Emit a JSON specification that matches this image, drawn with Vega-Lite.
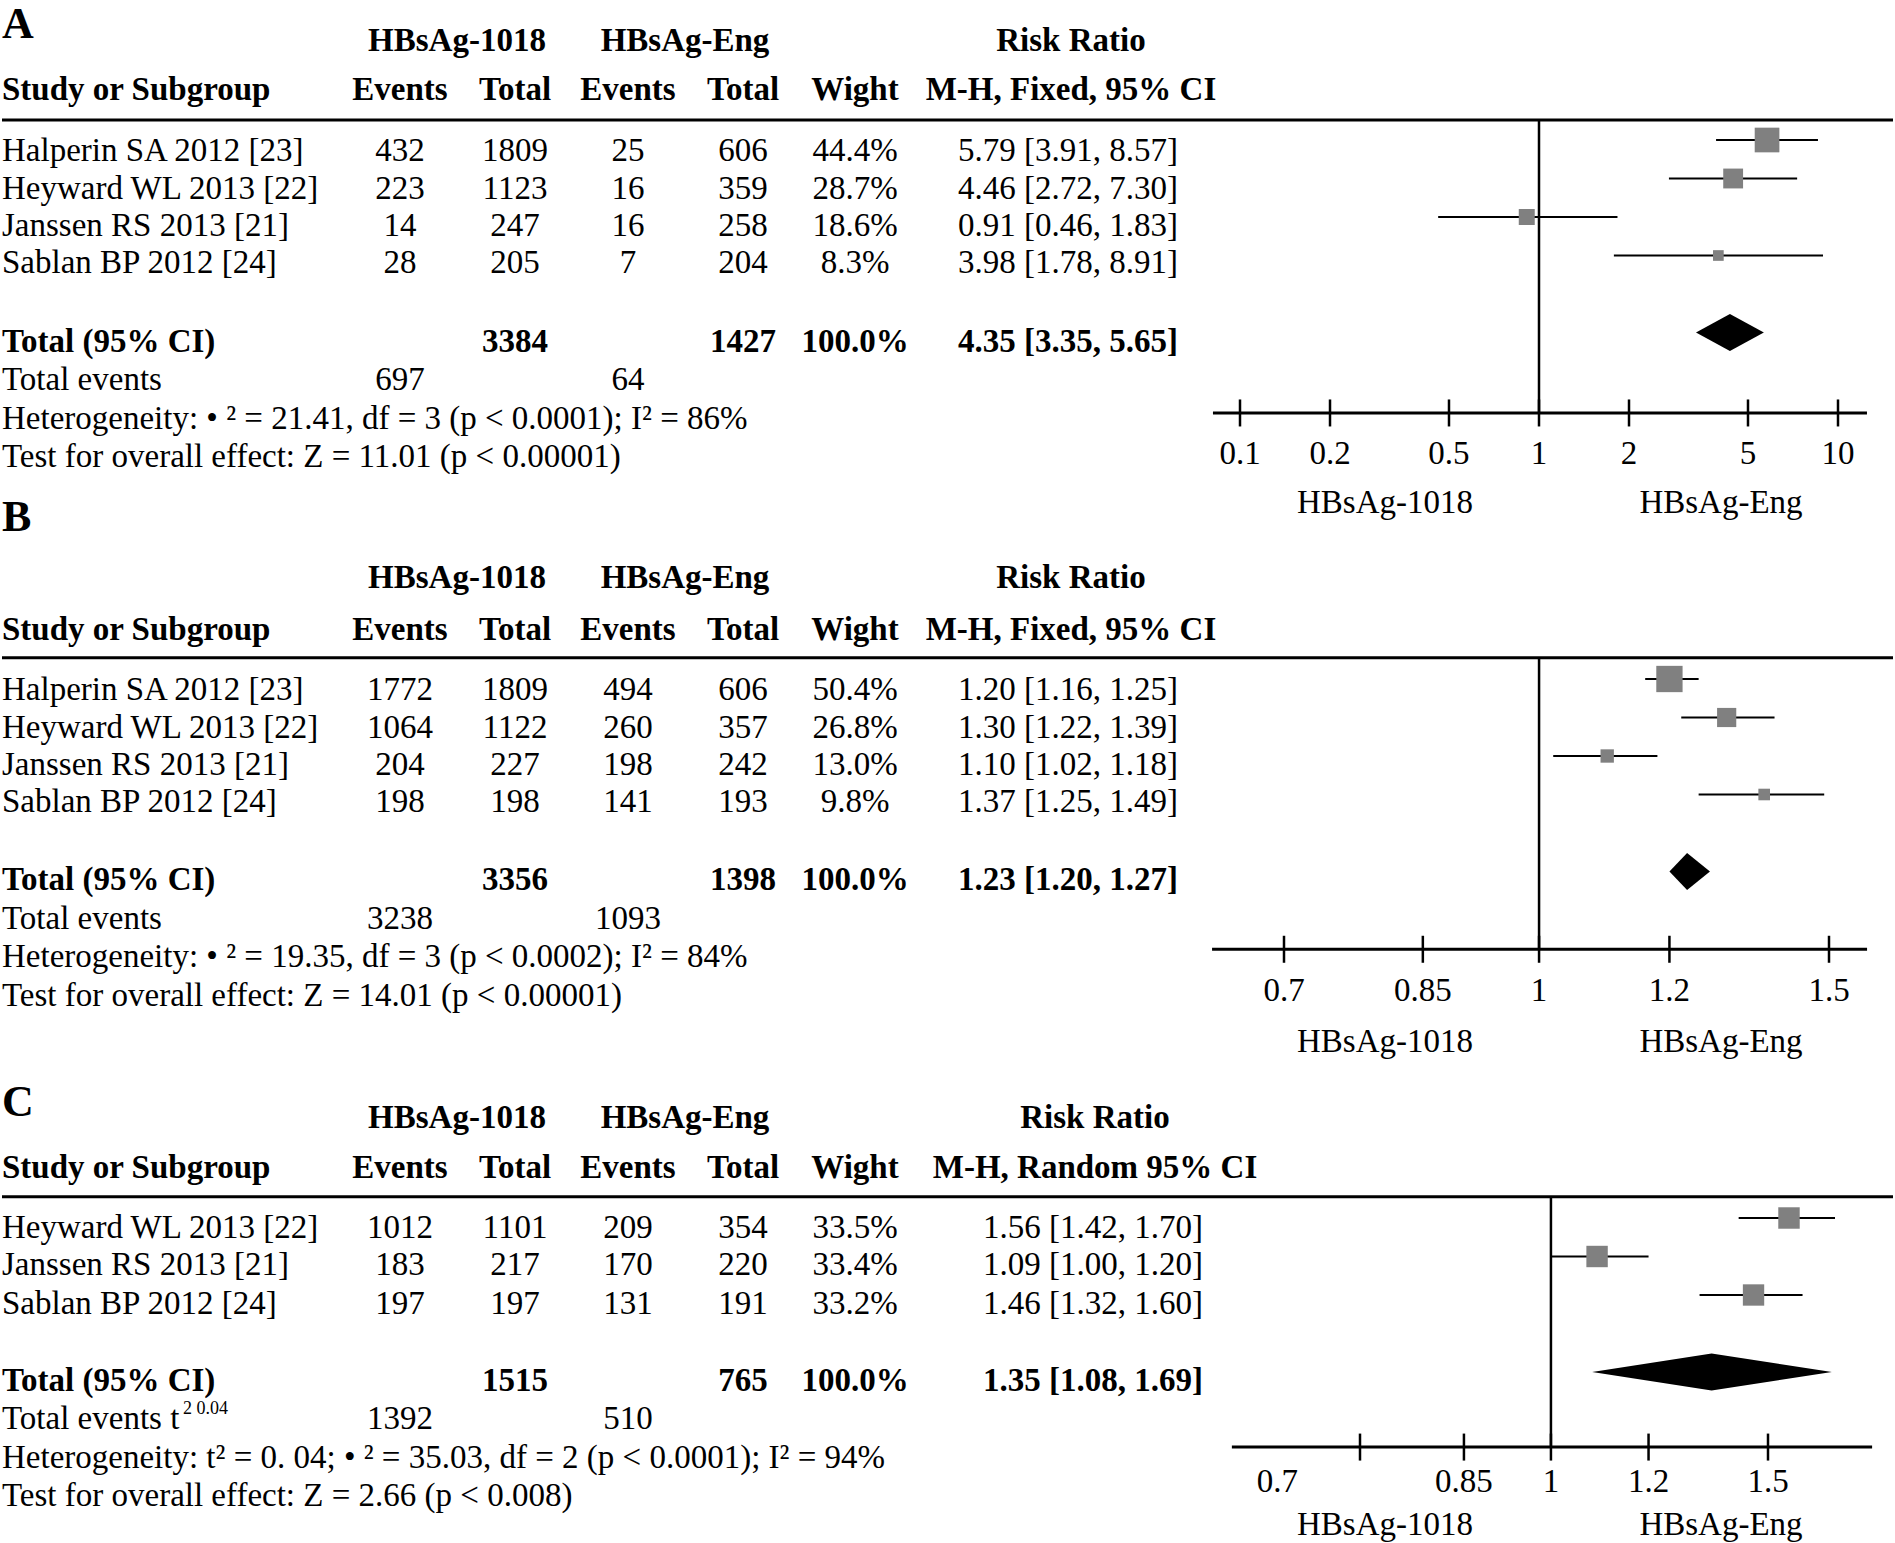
{
  "$schema": "https://vega.github.io/schema/vega-lite/v6.json",
  "width": 1895,
  "height": 1543,
  "autosize": {"type": "none"},
  "padding": 0,
  "background": "white",
  "config": {"view": {"stroke": null}},
  "datasets": {
    "cells": [
      {"g": "P", "col": 0, "row": -3.22, "t": "A"},
      {"g": "BC", "col": 2, "row": -2.81, "t": "HBsAg-1018"},
      {"g": "BC", "col": 5, "row": -2.81, "t": "HBsAg-Eng"},
      {"g": "BC", "col": 8, "row": -2.81, "t": "Risk Ratio"},
      {"g": "BL", "col": 0, "row": -1.52, "t": "Study or Subgroup"},
      {"g": "BC", "col": 1, "row": -1.52, "t": "Events"},
      {"g": "BC", "col": 3, "row": -1.52, "t": "Total"},
      {"g": "BC", "col": 4, "row": -1.52, "t": "Events"},
      {"g": "BC", "col": 6, "row": -1.52, "t": "Total"},
      {"g": "BC", "col": 7, "row": -1.52, "t": "Wight"},
      {"g": "BC", "col": 8, "row": -1.52, "t": "M-H, Fixed, 95% CI"},
      {"g": "L", "col": 0, "row": 0.06, "t": "Halperin SA 2012 [23]"},
      {"g": "C", "col": 1, "row": 0.06, "t": "432"},
      {"g": "C", "col": 3, "row": 0.06, "t": "1809"},
      {"g": "C", "col": 4, "row": 0.06, "t": "25"},
      {"g": "C", "col": 6, "row": 0.06, "t": "606"},
      {"g": "C", "col": 7, "row": 0.06, "t": "44.4%"},
      {"g": "R", "col": 10, "row": 0.06, "t": "5.79 [3.91, 8.57]"},
      {"g": "L", "col": 0, "row": 1.03, "t": "Heyward WL 2013 [22]"},
      {"g": "C", "col": 1, "row": 1.03, "t": "223"},
      {"g": "C", "col": 3, "row": 1.03, "t": "1123"},
      {"g": "C", "col": 4, "row": 1.03, "t": "16"},
      {"g": "C", "col": 6, "row": 1.03, "t": "359"},
      {"g": "C", "col": 7, "row": 1.03, "t": "28.7%"},
      {"g": "R", "col": 10, "row": 1.03, "t": "4.46 [2.72, 7.30]"},
      {"g": "L", "col": 0, "row": 2, "t": "Janssen RS 2013 [21]"},
      {"g": "C", "col": 1, "row": 2, "t": "14"},
      {"g": "C", "col": 3, "row": 2, "t": "247"},
      {"g": "C", "col": 4, "row": 2, "t": "16"},
      {"g": "C", "col": 6, "row": 2, "t": "258"},
      {"g": "C", "col": 7, "row": 2, "t": "18.6%"},
      {"g": "R", "col": 10, "row": 2, "t": "0.91 [0.46, 1.83]"},
      {"g": "L", "col": 0, "row": 2.97, "t": "Sablan BP 2012 [24]"},
      {"g": "C", "col": 1, "row": 2.97, "t": "28"},
      {"g": "C", "col": 3, "row": 2.97, "t": "205"},
      {"g": "C", "col": 4, "row": 2.97, "t": "7"},
      {"g": "C", "col": 6, "row": 2.97, "t": "204"},
      {"g": "C", "col": 7, "row": 2.97, "t": "8.3%"},
      {"g": "R", "col": 10, "row": 2.97, "t": "3.98 [1.78, 8.91]"},
      {"g": "BL", "col": 0, "row": 5, "t": "Total (95% CI)"},
      {"g": "BC", "col": 3, "row": 5, "t": "3384"},
      {"g": "BC", "col": 6, "row": 5, "t": "1427"},
      {"g": "BC", "col": 7, "row": 5, "t": "100.0%"},
      {"g": "BR", "col": 10, "row": 5, "t": "4.35 [3.35, 5.65]"},
      {"g": "L", "col": 0, "row": 6, "t": "Total events"},
      {"g": "C", "col": 1, "row": 6, "t": "697"},
      {"g": "C", "col": 4, "row": 6, "t": "64"},
      {"g": "L", "col": 0, "row": 7, "t": "Heterogeneity: • ² = 21.41, df = 3 (p < 0.0001); I² = 86%"},
      {"g": "L", "col": 0, "row": 8, "t": "Test for overall effect: Z = 11.01 (p < 0.00001)"},
      {"g": "C", "col": 12, "row": 9.19, "t": "HBsAg-1018"},
      {"g": "C", "col": 13, "row": 9.19, "t": "HBsAg-Eng"},

      {"g": "P", "col": 0, "row": 9.58, "t": "B"},
      {"g": "BC", "col": 2, "row": 11.15, "t": "HBsAg-1018"},
      {"g": "BC", "col": 5, "row": 11.15, "t": "HBsAg-Eng"},
      {"g": "BC", "col": 8, "row": 11.15, "t": "Risk Ratio"},
      {"g": "BL", "col": 0, "row": 12.5, "t": "Study or Subgroup"},
      {"g": "BC", "col": 1, "row": 12.5, "t": "Events"},
      {"g": "BC", "col": 3, "row": 12.5, "t": "Total"},
      {"g": "BC", "col": 4, "row": 12.5, "t": "Events"},
      {"g": "BC", "col": 6, "row": 12.5, "t": "Total"},
      {"g": "BC", "col": 7, "row": 12.5, "t": "Wight"},
      {"g": "BC", "col": 8, "row": 12.5, "t": "M-H, Fixed, 95% CI"},
      {"g": "L", "col": 0, "row": 14.05, "t": "Halperin SA 2012 [23]"},
      {"g": "C", "col": 1, "row": 14.05, "t": "1772"},
      {"g": "C", "col": 3, "row": 14.05, "t": "1809"},
      {"g": "C", "col": 4, "row": 14.05, "t": "494"},
      {"g": "C", "col": 6, "row": 14.05, "t": "606"},
      {"g": "C", "col": 7, "row": 14.05, "t": "50.4%"},
      {"g": "R", "col": 10, "row": 14.05, "t": "1.20 [1.16, 1.25]"},
      {"g": "L", "col": 0, "row": 15.03, "t": "Heyward WL 2013 [22]"},
      {"g": "C", "col": 1, "row": 15.03, "t": "1064"},
      {"g": "C", "col": 3, "row": 15.03, "t": "1122"},
      {"g": "C", "col": 4, "row": 15.03, "t": "260"},
      {"g": "C", "col": 6, "row": 15.03, "t": "357"},
      {"g": "C", "col": 7, "row": 15.03, "t": "26.8%"},
      {"g": "R", "col": 10, "row": 15.03, "t": "1.30 [1.22, 1.39]"},
      {"g": "L", "col": 0, "row": 16, "t": "Janssen RS 2013 [21]"},
      {"g": "C", "col": 1, "row": 16, "t": "204"},
      {"g": "C", "col": 3, "row": 16, "t": "227"},
      {"g": "C", "col": 4, "row": 16, "t": "198"},
      {"g": "C", "col": 6, "row": 16, "t": "242"},
      {"g": "C", "col": 7, "row": 16, "t": "13.0%"},
      {"g": "R", "col": 10, "row": 16, "t": "1.10 [1.02, 1.18]"},
      {"g": "L", "col": 0, "row": 16.97, "t": "Sablan BP 2012 [24]"},
      {"g": "C", "col": 1, "row": 16.97, "t": "198"},
      {"g": "C", "col": 3, "row": 16.97, "t": "198"},
      {"g": "C", "col": 4, "row": 16.97, "t": "141"},
      {"g": "C", "col": 6, "row": 16.97, "t": "193"},
      {"g": "C", "col": 7, "row": 16.97, "t": "9.8%"},
      {"g": "R", "col": 10, "row": 16.97, "t": "1.37 [1.25, 1.49]"},
      {"g": "BL", "col": 0, "row": 19, "t": "Total (95% CI)"},
      {"g": "BC", "col": 3, "row": 19, "t": "3356"},
      {"g": "BC", "col": 6, "row": 19, "t": "1398"},
      {"g": "BC", "col": 7, "row": 19, "t": "100.0%"},
      {"g": "BR", "col": 10, "row": 19, "t": "1.23 [1.20, 1.27]"},
      {"g": "L", "col": 0, "row": 20, "t": "Total events"},
      {"g": "C", "col": 1, "row": 20, "t": "3238"},
      {"g": "C", "col": 4, "row": 20, "t": "1093"},
      {"g": "L", "col": 0, "row": 21, "t": "Heterogeneity: • ² = 19.35, df = 3 (p < 0.0002); I² = 84%"},
      {"g": "L", "col": 0, "row": 22, "t": "Test for overall effect: Z = 14.01 (p < 0.00001)"},
      {"g": "C", "col": 12, "row": 23.19, "t": "HBsAg-1018"},
      {"g": "C", "col": 13, "row": 23.19, "t": "HBsAg-Eng"},

      {"g": "P", "col": 0, "row": 24.78, "t": "C"},
      {"g": "BC", "col": 2, "row": 25.16, "t": "HBsAg-1018"},
      {"g": "BC", "col": 5, "row": 25.16, "t": "HBsAg-Eng"},
      {"g": "BC", "col": 9, "row": 25.16, "t": "Risk Ratio"},
      {"g": "BL", "col": 0, "row": 26.48, "t": "Study or Subgroup"},
      {"g": "BC", "col": 1, "row": 26.48, "t": "Events"},
      {"g": "BC", "col": 3, "row": 26.48, "t": "Total"},
      {"g": "BC", "col": 4, "row": 26.48, "t": "Events"},
      {"g": "BC", "col": 6, "row": 26.48, "t": "Total"},
      {"g": "BC", "col": 7, "row": 26.48, "t": "Wight"},
      {"g": "BC", "col": 9, "row": 26.48, "t": "M-H, Random 95% CI"},
      {"g": "L", "col": 0, "row": 28.03, "t": "Heyward WL 2013 [22]"},
      {"g": "C", "col": 1, "row": 28.03, "t": "1012"},
      {"g": "C", "col": 3, "row": 28.03, "t": "1101"},
      {"g": "C", "col": 4, "row": 28.03, "t": "209"},
      {"g": "C", "col": 6, "row": 28.03, "t": "354"},
      {"g": "C", "col": 7, "row": 28.03, "t": "33.5%"},
      {"g": "R", "col": 11, "row": 28.03, "t": "1.56 [1.42, 1.70]"},
      {"g": "L", "col": 0, "row": 29, "t": "Janssen RS 2013 [21]"},
      {"g": "C", "col": 1, "row": 29, "t": "183"},
      {"g": "C", "col": 3, "row": 29, "t": "217"},
      {"g": "C", "col": 4, "row": 29, "t": "170"},
      {"g": "C", "col": 6, "row": 29, "t": "220"},
      {"g": "C", "col": 7, "row": 29, "t": "33.4%"},
      {"g": "R", "col": 11, "row": 29, "t": "1.09 [1.00, 1.20]"},
      {"g": "L", "col": 0, "row": 30, "t": "Sablan BP 2012 [24]"},
      {"g": "C", "col": 1, "row": 30, "t": "197"},
      {"g": "C", "col": 3, "row": 30, "t": "197"},
      {"g": "C", "col": 4, "row": 30, "t": "131"},
      {"g": "C", "col": 6, "row": 30, "t": "191"},
      {"g": "C", "col": 7, "row": 30, "t": "33.2%"},
      {"g": "R", "col": 11, "row": 30, "t": "1.46 [1.32, 1.60]"},
      {"g": "BL", "col": 0, "row": 32, "t": "Total (95% CI)"},
      {"g": "BC", "col": 3, "row": 32, "t": "1515"},
      {"g": "BC", "col": 6, "row": 32, "t": "765"},
      {"g": "BC", "col": 7, "row": 32, "t": "100.0%"},
      {"g": "BR", "col": 11, "row": 32, "t": "1.35 [1.08, 1.69]"},
      {"g": "L", "col": 0, "row": 33, "t": "Total events t"},
      {"g": "S", "col": 15, "row": 33, "t": "2 0.04"},
      {"g": "C", "col": 1, "row": 33, "t": "1392"},
      {"g": "C", "col": 4, "row": 33, "t": "510"},
      {"g": "L", "col": 0, "row": 34, "t": "Heterogeneity: t² = 0. 04; • ² = 35.03, df = 2 (p < 0.0001); I² = 94%"},
      {"g": "L", "col": 0, "row": 35, "t": "Test for overall effect: Z = 2.66 (p < 0.008)"},
      {"g": "C", "col": 12, "row": 35.74, "t": "HBsAg-1018"},
      {"g": "C", "col": 13, "row": 35.74, "t": "HBsAg-Eng"}
    ],
    "hlines": [
      {"row": -0.52, "c1": 0, "c2": 14},
      {"row": 13.45, "c1": 0, "c2": 14},
      {"row": 27.45, "c1": 0, "c2": 14}
    ],
    "studies": [
      {"p": "A", "row": 0, "est": 5.79, "lo": 3.91, "hi": 8.57, "w": 44.4},
      {"p": "A", "row": 1, "est": 4.46, "lo": 2.72, "hi": 7.30, "w": 28.7},
      {"p": "A", "row": 2, "est": 0.91, "lo": 0.46, "hi": 1.83, "w": 18.6},
      {"p": "A", "row": 3, "est": 3.98, "lo": 1.78, "hi": 8.91, "w": 8.3},
      {"p": "B", "row": 14, "est": 1.20, "lo": 1.16, "hi": 1.25, "w": 50.4},
      {"p": "B", "row": 15, "est": 1.30, "lo": 1.22, "hi": 1.39, "w": 26.8},
      {"p": "B", "row": 16, "est": 1.10, "lo": 1.02, "hi": 1.18, "w": 13.0},
      {"p": "B", "row": 17, "est": 1.37, "lo": 1.25, "hi": 1.49, "w": 9.8},
      {"p": "C", "row": 28, "est": 1.56, "lo": 1.42, "hi": 1.70, "w": 33.5},
      {"p": "C", "row": 29, "est": 1.09, "lo": 1.00, "hi": 1.20, "w": 33.4},
      {"p": "C", "row": 30, "est": 1.46, "lo": 1.32, "hi": 1.60, "w": 33.2}
    ],
    "diamonds": [
      {"p": "A", "x": 3.35, "y1": 5, "y2": 5},
      {"p": "A", "x": 4.35, "y1": 4.52, "y2": 5.48},
      {"p": "A", "x": 5.65, "y1": 5, "y2": 5},
      {"p": "B", "x": 1.20, "y1": 19, "y2": 19},
      {"p": "B", "x": 1.23, "y1": 18.52, "y2": 19.48},
      {"p": "B", "x": 1.27, "y1": 19, "y2": 19},
      {"p": "C", "x": 1.08, "y1": 32, "y2": 32},
      {"p": "C", "x": 1.35, "y1": 31.52, "y2": 32.48},
      {"p": "C", "x": 1.69, "y1": 32, "y2": 32}
    ],
    "axes": [
      {"p": "A", "lo": 0.0812, "hi": 12.5, "ref": 1, "rl": -0.52, "ra": 7.09},
      {"p": "B", "lo": 0.633, "hi": 1.582, "ref": 1, "rl": 13.45, "ra": 21.02},
      {"p": "C", "lo": 0.551, "hi": 1.822, "ref": 1, "rl": 27.45, "ra": 33.95}
    ],
    "ticks": [
      {"p": "A", "v": 0.1, "at": 0.1, "lab": "0.1", "ra": 7.09, "rt": 7.92},
      {"p": "A", "v": 0.2, "at": 0.2, "lab": "0.2", "ra": 7.09, "rt": 7.92},
      {"p": "A", "v": 0.5, "at": 0.5, "lab": "0.5", "ra": 7.09, "rt": 7.92},
      {"p": "A", "v": 1, "at": 1, "lab": "1", "ra": 7.09, "rt": 7.92},
      {"p": "A", "v": 2, "at": 2, "lab": "2", "ra": 7.09, "rt": 7.92},
      {"p": "A", "v": 5, "at": 5, "lab": "5", "ra": 7.09, "rt": 7.92},
      {"p": "A", "v": 10, "at": 10, "lab": "10", "ra": 7.09, "rt": 7.92},
      {"p": "B", "v": 0.7, "at": 0.7, "lab": "0.7", "ra": 21.02, "rt": 21.88},
      {"p": "B", "v": 0.85, "at": 0.85, "lab": "0.85", "ra": 21.02, "rt": 21.88},
      {"p": "B", "v": 1, "at": 1, "lab": "1", "ra": 21.02, "rt": 21.88},
      {"p": "B", "v": 1.2, "at": 1.2, "lab": "1.2", "ra": 21.02, "rt": 21.88},
      {"p": "B", "v": 1.5, "at": 1.5, "lab": "1.5", "ra": 21.02, "rt": 21.88},
      {"p": "C", "v": 0.7, "at": 0.6, "lab": "0.7", "ra": 33.95, "rt": 34.62},
      {"p": "C", "v": 0.85, "at": 0.85, "lab": "0.85", "ra": 33.95, "rt": 34.62},
      {"p": "C", "v": 1, "at": 1, "lab": "1", "ra": 33.95, "rt": 34.62},
      {"p": "C", "v": 1.2, "at": 1.2, "lab": "1.2", "ra": 33.95, "rt": 34.62},
      {"p": "C", "v": 1.5, "at": 1.5, "lab": "1.5", "ra": 33.95, "rt": 34.62}
    ]
  },
  "layer": [
    {
      "layer": [
        {
          "data": {"name": "hlines"},
          "mark": {"type": "rule", "strokeWidth": 3, "color": "black"},
          "encoding": {
            "x": {"field": "c1", "type": "quantitative", "scale": {"domain": [0,1,2,3,4,5,6,7,8,9,10,11,12,13,14,15], "range": [2,400,457,515,628,685,743,855,1071,1095,1178,1203,1385,1721,1893,183], "nice": false, "zero": false}, "axis": null},
            "x2": {"field": "c2"},
            "y": {"field": "row", "type": "quantitative", "scale": {"domain": [-3.6364, 36.4416], "reverse": true, "nice": false, "zero": false}, "axis": null}
          }
        },
        {
          "data": {"name": "cells"},
          "transform": [{"filter": "datum.g === 'L'"}],
          "mark": {"type": "text", "align": "left", "baseline": "middle", "dy": 9, "font": "Liberation Serif", "fontSize": 33, "color": "black"},
          "encoding": {
            "x": {"field": "col", "type": "quantitative", "scale": {"domain": [0,1,2,3,4,5,6,7,8,9,10,11,12,13,14,15], "range": [2,400,457,515,628,685,743,855,1071,1095,1178,1203,1385,1721,1893,183], "nice": false, "zero": false}, "axis": null},
            "y": {"field": "row", "type": "quantitative", "scale": {"domain": [-3.6364, 36.4416], "reverse": true, "nice": false, "zero": false}, "axis": null},
            "text": {"field": "t"}
          }
        },
        {
          "data": {"name": "cells"},
          "transform": [{"filter": "datum.g === 'S'"}],
          "mark": {"type": "text", "align": "left", "baseline": "middle", "dy": -1, "font": "Liberation Serif", "fontSize": 18, "color": "black"},
          "encoding": {
            "x": {"field": "col", "type": "quantitative", "scale": {"domain": [0,1,2,3,4,5,6,7,8,9,10,11,12,13,14,15], "range": [2,400,457,515,628,685,743,855,1071,1095,1178,1203,1385,1721,1893,183], "nice": false, "zero": false}, "axis": null},
            "y": {"field": "row", "type": "quantitative", "scale": {"domain": [-3.6364, 36.4416], "reverse": true, "nice": false, "zero": false}, "axis": null},
            "text": {"field": "t"}
          }
        },
        {
          "data": {"name": "cells"},
          "transform": [{"filter": "datum.g === 'C'"}],
          "mark": {"type": "text", "align": "center", "baseline": "middle", "dy": 9, "font": "Liberation Serif", "fontSize": 33, "color": "black"},
          "encoding": {
            "x": {"field": "col", "type": "quantitative", "scale": {"domain": [0,1,2,3,4,5,6,7,8,9,10,11,12,13,14,15], "range": [2,400,457,515,628,685,743,855,1071,1095,1178,1203,1385,1721,1893,183], "nice": false, "zero": false}, "axis": null},
            "y": {"field": "row", "type": "quantitative", "scale": {"domain": [-3.6364, 36.4416], "reverse": true, "nice": false, "zero": false}, "axis": null},
            "text": {"field": "t"}
          }
        },
        {
          "data": {"name": "cells"},
          "transform": [{"filter": "datum.g === 'R'"}],
          "mark": {"type": "text", "align": "right", "baseline": "middle", "dy": 9, "font": "Liberation Serif", "fontSize": 33, "color": "black"},
          "encoding": {
            "x": {"field": "col", "type": "quantitative", "scale": {"domain": [0,1,2,3,4,5,6,7,8,9,10,11,12,13,14,15], "range": [2,400,457,515,628,685,743,855,1071,1095,1178,1203,1385,1721,1893,183], "nice": false, "zero": false}, "axis": null},
            "y": {"field": "row", "type": "quantitative", "scale": {"domain": [-3.6364, 36.4416], "reverse": true, "nice": false, "zero": false}, "axis": null},
            "text": {"field": "t"}
          }
        },
        {
          "data": {"name": "cells"},
          "transform": [{"filter": "datum.g === 'BL'"}],
          "mark": {"type": "text", "align": "left", "baseline": "middle", "dy": 9, "font": "Liberation Serif", "fontSize": 33, "fontWeight": "bold", "color": "black"},
          "encoding": {
            "x": {"field": "col", "type": "quantitative", "scale": {"domain": [0,1,2,3,4,5,6,7,8,9,10,11,12,13,14,15], "range": [2,400,457,515,628,685,743,855,1071,1095,1178,1203,1385,1721,1893,183], "nice": false, "zero": false}, "axis": null},
            "y": {"field": "row", "type": "quantitative", "scale": {"domain": [-3.6364, 36.4416], "reverse": true, "nice": false, "zero": false}, "axis": null},
            "text": {"field": "t"}
          }
        },
        {
          "data": {"name": "cells"},
          "transform": [{"filter": "datum.g === 'BC'"}],
          "mark": {"type": "text", "align": "center", "baseline": "middle", "dy": 9, "font": "Liberation Serif", "fontSize": 33, "fontWeight": "bold", "color": "black"},
          "encoding": {
            "x": {"field": "col", "type": "quantitative", "scale": {"domain": [0,1,2,3,4,5,6,7,8,9,10,11,12,13,14,15], "range": [2,400,457,515,628,685,743,855,1071,1095,1178,1203,1385,1721,1893,183], "nice": false, "zero": false}, "axis": null},
            "y": {"field": "row", "type": "quantitative", "scale": {"domain": [-3.6364, 36.4416], "reverse": true, "nice": false, "zero": false}, "axis": null},
            "text": {"field": "t"}
          }
        },
        {
          "data": {"name": "cells"},
          "transform": [{"filter": "datum.g === 'BR'"}],
          "mark": {"type": "text", "align": "right", "baseline": "middle", "dy": 9, "font": "Liberation Serif", "fontSize": 33, "fontWeight": "bold", "color": "black"},
          "encoding": {
            "x": {"field": "col", "type": "quantitative", "scale": {"domain": [0,1,2,3,4,5,6,7,8,9,10,11,12,13,14,15], "range": [2,400,457,515,628,685,743,855,1071,1095,1178,1203,1385,1721,1893,183], "nice": false, "zero": false}, "axis": null},
            "y": {"field": "row", "type": "quantitative", "scale": {"domain": [-3.6364, 36.4416], "reverse": true, "nice": false, "zero": false}, "axis": null},
            "text": {"field": "t"}
          }
        },
        {
          "data": {"name": "cells"},
          "transform": [{"filter": "datum.g === 'P'"}],
          "mark": {"type": "text", "align": "left", "baseline": "middle", "dy": 9, "font": "Liberation Serif", "fontSize": 44, "fontWeight": "bold", "color": "black"},
          "encoding": {
            "x": {"field": "col", "type": "quantitative", "scale": {"domain": [0,1,2,3,4,5,6,7,8,9,10,11,12,13,14,15], "range": [2,400,457,515,628,685,743,855,1071,1095,1178,1203,1385,1721,1893,183], "nice": false, "zero": false}, "axis": null},
            "y": {"field": "row", "type": "quantitative", "scale": {"domain": [-3.6364, 36.4416], "reverse": true, "nice": false, "zero": false}, "axis": null},
            "text": {"field": "t"}
          }
        }
      ]
    },
    {
      "layer": [
        {
          "data": {"name": "axes"},
          "transform": [{"filter": "datum.p === 'A'"}],
          "mark": {"type": "rule", "strokeWidth": 2.5, "color": "black"},
          "encoding": {
            "x": {"field": "ref", "type": "quantitative", "scale": {"type": "log", "domain": [0.1, 10], "range": [1240, 1838], "nice": false}, "axis": null},
            "y": {"field": "rl", "type": "quantitative", "scale": {"domain": [-3.6364, 36.4416], "reverse": true, "nice": false, "zero": false}, "axis": null},
            "y2": {"field": "ra"}
          }
        },
        {
          "data": {"name": "axes"},
          "transform": [{"filter": "datum.p === 'A'"}],
          "mark": {"type": "rule", "strokeWidth": 3, "color": "black"},
          "encoding": {
            "x": {"field": "lo", "type": "quantitative", "scale": {"type": "log", "domain": [0.1, 10], "range": [1240, 1838], "nice": false}, "axis": null},
            "x2": {"field": "hi"},
            "y": {"field": "ra", "type": "quantitative", "scale": {"domain": [-3.6364, 36.4416], "reverse": true, "nice": false, "zero": false}, "axis": null}
          }
        },
        {
          "data": {"name": "ticks"},
          "transform": [{"filter": "datum.p === 'A'"}],
          "mark": {"type": "tick", "orient": "vertical", "size": 27, "thickness": 2.5, "color": "black", "opacity": 1},
          "encoding": {
            "x": {"field": "v", "type": "quantitative", "scale": {"type": "log", "domain": [0.1, 10], "range": [1240, 1838], "nice": false}, "axis": null},
            "y": {"field": "ra", "type": "quantitative", "scale": {"domain": [-3.6364, 36.4416], "reverse": true, "nice": false, "zero": false}, "axis": null}
          }
        },
        {
          "data": {"name": "ticks"},
          "transform": [{"filter": "datum.p === 'A'"}],
          "mark": {"type": "text", "align": "center", "baseline": "middle", "dy": 9, "font": "Liberation Serif", "fontSize": 33, "color": "black"},
          "encoding": {
            "x": {"field": "at", "type": "quantitative", "scale": {"type": "log", "domain": [0.1, 10], "range": [1240, 1838], "nice": false}, "axis": null},
            "y": {"field": "rt", "type": "quantitative", "scale": {"domain": [-3.6364, 36.4416], "reverse": true, "nice": false, "zero": false}, "axis": null},
            "text": {"field": "lab"}
          }
        },
        {
          "data": {"name": "studies"},
          "transform": [{"filter": "datum.p === 'A'"}],
          "mark": {"type": "rule", "strokeWidth": 2.2, "color": "black"},
          "encoding": {
            "x": {"field": "lo", "type": "quantitative", "scale": {"type": "log", "domain": [0.1, 10], "range": [1240, 1838], "nice": false}, "axis": null},
            "x2": {"field": "hi"},
            "y": {"field": "row", "type": "quantitative", "scale": {"domain": [-3.6364, 36.4416], "reverse": true, "nice": false, "zero": false}, "axis": null}
          }
        },
        {
          "data": {"name": "studies"},
          "transform": [{"filter": "datum.p === 'A'"}],
          "mark": {"type": "point", "shape": "square", "filled": true, "color": "#808080", "opacity": 1},
          "encoding": {
            "x": {"field": "est", "type": "quantitative", "scale": {"type": "log", "domain": [0.1, 10], "range": [1240, 1838], "nice": false}, "axis": null},
            "y": {"field": "row", "type": "quantitative", "scale": {"domain": [-3.6364, 36.4416], "reverse": true, "nice": false, "zero": false}, "axis": null},
            "size": {"field": "w", "type": "quantitative", "scale": {"domain": [8, 51], "range": [110, 700]}, "legend": null}
          }
        },
        {
          "data": {"name": "diamonds"},
          "transform": [{"filter": "datum.p === 'A'"}],
          "mark": {"type": "area", "orient": "vertical", "color": "black", "opacity": 1},
          "encoding": {
            "x": {"field": "x", "type": "quantitative", "scale": {"type": "log", "domain": [0.1, 10], "range": [1240, 1838], "nice": false}, "axis": null},
            "y": {"field": "y1", "type": "quantitative", "scale": {"domain": [-3.6364, 36.4416], "reverse": true, "nice": false, "zero": false}, "axis": null},
            "y2": {"field": "y2"}
          }
        }
      ]
    },
    {
      "layer": [
        {
          "data": {"name": "axes"},
          "transform": [{"filter": "datum.p === 'B'"}],
          "mark": {"type": "rule", "strokeWidth": 2.5, "color": "black"},
          "encoding": {
            "x": {"field": "ref", "type": "quantitative", "scale": {"type": "log", "domain": [0.7, 1.5], "range": [1284, 1829], "nice": false}, "axis": null},
            "y": {"field": "rl", "type": "quantitative", "scale": {"domain": [-3.6364, 36.4416], "reverse": true, "nice": false, "zero": false}, "axis": null},
            "y2": {"field": "ra"}
          }
        },
        {
          "data": {"name": "axes"},
          "transform": [{"filter": "datum.p === 'B'"}],
          "mark": {"type": "rule", "strokeWidth": 3, "color": "black"},
          "encoding": {
            "x": {"field": "lo", "type": "quantitative", "scale": {"type": "log", "domain": [0.7, 1.5], "range": [1284, 1829], "nice": false}, "axis": null},
            "x2": {"field": "hi"},
            "y": {"field": "ra", "type": "quantitative", "scale": {"domain": [-3.6364, 36.4416], "reverse": true, "nice": false, "zero": false}, "axis": null}
          }
        },
        {
          "data": {"name": "ticks"},
          "transform": [{"filter": "datum.p === 'B'"}],
          "mark": {"type": "tick", "orient": "vertical", "size": 27, "thickness": 2.5, "color": "black", "opacity": 1},
          "encoding": {
            "x": {"field": "v", "type": "quantitative", "scale": {"type": "log", "domain": [0.7, 1.5], "range": [1284, 1829], "nice": false}, "axis": null},
            "y": {"field": "ra", "type": "quantitative", "scale": {"domain": [-3.6364, 36.4416], "reverse": true, "nice": false, "zero": false}, "axis": null}
          }
        },
        {
          "data": {"name": "ticks"},
          "transform": [{"filter": "datum.p === 'B'"}],
          "mark": {"type": "text", "align": "center", "baseline": "middle", "dy": 9, "font": "Liberation Serif", "fontSize": 33, "color": "black"},
          "encoding": {
            "x": {"field": "at", "type": "quantitative", "scale": {"type": "log", "domain": [0.7, 1.5], "range": [1284, 1829], "nice": false}, "axis": null},
            "y": {"field": "rt", "type": "quantitative", "scale": {"domain": [-3.6364, 36.4416], "reverse": true, "nice": false, "zero": false}, "axis": null},
            "text": {"field": "lab"}
          }
        },
        {
          "data": {"name": "studies"},
          "transform": [{"filter": "datum.p === 'B'"}],
          "mark": {"type": "rule", "strokeWidth": 2.2, "color": "black"},
          "encoding": {
            "x": {"field": "lo", "type": "quantitative", "scale": {"type": "log", "domain": [0.7, 1.5], "range": [1284, 1829], "nice": false}, "axis": null},
            "x2": {"field": "hi"},
            "y": {"field": "row", "type": "quantitative", "scale": {"domain": [-3.6364, 36.4416], "reverse": true, "nice": false, "zero": false}, "axis": null}
          }
        },
        {
          "data": {"name": "studies"},
          "transform": [{"filter": "datum.p === 'B'"}],
          "mark": {"type": "point", "shape": "square", "filled": true, "color": "#808080", "opacity": 1},
          "encoding": {
            "x": {"field": "est", "type": "quantitative", "scale": {"type": "log", "domain": [0.7, 1.5], "range": [1284, 1829], "nice": false}, "axis": null},
            "y": {"field": "row", "type": "quantitative", "scale": {"domain": [-3.6364, 36.4416], "reverse": true, "nice": false, "zero": false}, "axis": null},
            "size": {"field": "w", "type": "quantitative", "scale": {"domain": [8, 51], "range": [110, 700]}, "legend": null}
          }
        },
        {
          "data": {"name": "diamonds"},
          "transform": [{"filter": "datum.p === 'B'"}],
          "mark": {"type": "area", "orient": "vertical", "color": "black", "opacity": 1},
          "encoding": {
            "x": {"field": "x", "type": "quantitative", "scale": {"type": "log", "domain": [0.7, 1.5], "range": [1284, 1829], "nice": false}, "axis": null},
            "y": {"field": "y1", "type": "quantitative", "scale": {"domain": [-3.6364, 36.4416], "reverse": true, "nice": false, "zero": false}, "axis": null},
            "y2": {"field": "y2"}
          }
        }
      ]
    },
    {
      "layer": [
        {
          "data": {"name": "axes"},
          "transform": [{"filter": "datum.p === 'C'"}],
          "mark": {"type": "rule", "strokeWidth": 2.5, "color": "black"},
          "encoding": {
            "x": {"field": "ref", "type": "quantitative", "scale": {"type": "log", "domain": [0.7, 1.5], "range": [1360, 1768], "nice": false}, "axis": null},
            "y": {"field": "rl", "type": "quantitative", "scale": {"domain": [-3.6364, 36.4416], "reverse": true, "nice": false, "zero": false}, "axis": null},
            "y2": {"field": "ra"}
          }
        },
        {
          "data": {"name": "axes"},
          "transform": [{"filter": "datum.p === 'C'"}],
          "mark": {"type": "rule", "strokeWidth": 3, "color": "black"},
          "encoding": {
            "x": {"field": "lo", "type": "quantitative", "scale": {"type": "log", "domain": [0.7, 1.5], "range": [1360, 1768], "nice": false}, "axis": null},
            "x2": {"field": "hi"},
            "y": {"field": "ra", "type": "quantitative", "scale": {"domain": [-3.6364, 36.4416], "reverse": true, "nice": false, "zero": false}, "axis": null}
          }
        },
        {
          "data": {"name": "ticks"},
          "transform": [{"filter": "datum.p === 'C'"}],
          "mark": {"type": "tick", "orient": "vertical", "size": 27, "thickness": 2.5, "color": "black", "opacity": 1},
          "encoding": {
            "x": {"field": "v", "type": "quantitative", "scale": {"type": "log", "domain": [0.7, 1.5], "range": [1360, 1768], "nice": false}, "axis": null},
            "y": {"field": "ra", "type": "quantitative", "scale": {"domain": [-3.6364, 36.4416], "reverse": true, "nice": false, "zero": false}, "axis": null}
          }
        },
        {
          "data": {"name": "ticks"},
          "transform": [{"filter": "datum.p === 'C'"}],
          "mark": {"type": "text", "align": "center", "baseline": "middle", "dy": 9, "font": "Liberation Serif", "fontSize": 33, "color": "black"},
          "encoding": {
            "x": {"field": "at", "type": "quantitative", "scale": {"type": "log", "domain": [0.7, 1.5], "range": [1360, 1768], "nice": false}, "axis": null},
            "y": {"field": "rt", "type": "quantitative", "scale": {"domain": [-3.6364, 36.4416], "reverse": true, "nice": false, "zero": false}, "axis": null},
            "text": {"field": "lab"}
          }
        },
        {
          "data": {"name": "studies"},
          "transform": [{"filter": "datum.p === 'C'"}],
          "mark": {"type": "rule", "strokeWidth": 2.2, "color": "black"},
          "encoding": {
            "x": {"field": "lo", "type": "quantitative", "scale": {"type": "log", "domain": [0.7, 1.5], "range": [1360, 1768], "nice": false}, "axis": null},
            "x2": {"field": "hi"},
            "y": {"field": "row", "type": "quantitative", "scale": {"domain": [-3.6364, 36.4416], "reverse": true, "nice": false, "zero": false}, "axis": null}
          }
        },
        {
          "data": {"name": "studies"},
          "transform": [{"filter": "datum.p === 'C'"}],
          "mark": {"type": "point", "shape": "square", "filled": true, "color": "#808080", "opacity": 1},
          "encoding": {
            "x": {"field": "est", "type": "quantitative", "scale": {"type": "log", "domain": [0.7, 1.5], "range": [1360, 1768], "nice": false}, "axis": null},
            "y": {"field": "row", "type": "quantitative", "scale": {"domain": [-3.6364, 36.4416], "reverse": true, "nice": false, "zero": false}, "axis": null},
            "size": {"field": "w", "type": "quantitative", "scale": {"domain": [8, 51], "range": [110, 700]}, "legend": null}
          }
        },
        {
          "data": {"name": "diamonds"},
          "transform": [{"filter": "datum.p === 'C'"}],
          "mark": {"type": "area", "orient": "vertical", "color": "black", "opacity": 1},
          "encoding": {
            "x": {"field": "x", "type": "quantitative", "scale": {"type": "log", "domain": [0.7, 1.5], "range": [1360, 1768], "nice": false}, "axis": null},
            "y": {"field": "y1", "type": "quantitative", "scale": {"domain": [-3.6364, 36.4416], "reverse": true, "nice": false, "zero": false}, "axis": null},
            "y2": {"field": "y2"}
          }
        }
      ]
    }
  ],
  "resolve": {"scale": {"x": "independent"}}
}
